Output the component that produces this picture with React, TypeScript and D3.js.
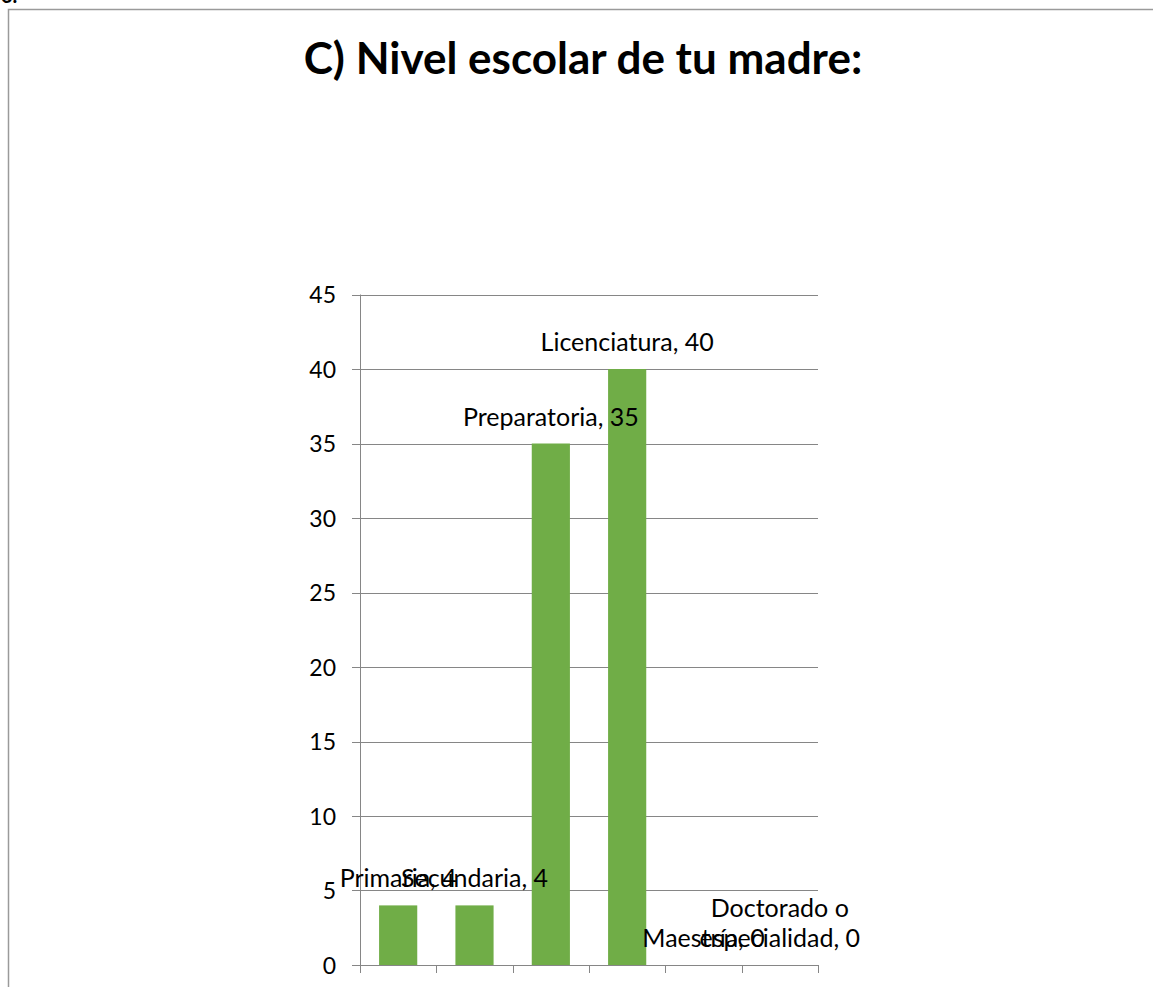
import React from "react";
import * as d3 from "d3";

const categories = ["Primaria", "Secundaria", "Preparatoria", "Licenciatura", "Maestría", "Doctorado o especialidad"];
const values = [4, 4, 35, 40, 0, 0];
const yTicks = [0, 5, 10, 15, 20, 25, 30, 35, 40, 45];
const title = "C) Nivel escolar de tu madre:";

const FONT = "Lato, 'Open Sans', sans-serif";

function wrap(text: string, maxChars: number): string[] {
  const words = text.split(" ");
  const lines: string[] = [];
  let cur = "";
  for (const w of words) {
    const next = cur ? cur + " " + w : w;
    if (next.length > maxChars && cur) {
      lines.push(cur);
      cur = w;
    } else cur = next;
  }
  if (cur) lines.push(cur);
  return lines;
}

export default function App() {
  const W = 1153, H = 987;
  const left = 360, right = 818, top = 294.5, bottom = 965;
  const x = d3.scaleBand<string>().domain(categories).range([left, right]).paddingInner(0.5).paddingOuter(0.25);
  const y = d3.scaleLinear().domain([0, 45]).range([bottom, top]);
  const step = x.step();
  const boundaries = d3.range(categories.length + 1).map((i) => left + i * step);
  const grid = "#868686";

  return (
    <svg width={W} height={H} style={{ position: "absolute", left: 0, top: 0, background: "#fff" }}>
      <rect x={0} y={0} width={W} height={H} fill="#fff" />
      <text x={1} y={3} fontFamily={FONT} fontWeight="bold" fontSize={20} fill="#000">6.</text>
      <path d={`M8.5,${H} V9.5 H${W}`} fill="none" stroke="#9a9a9a" strokeWidth={1.5} />
      <text x={583} y={74} textAnchor="middle" fontFamily={FONT} fontWeight="bold" fontSize={44} fill="#000">{title}</text>
      {yTicks.map((t) => (
        <g key={t}>
          <line x1={left - 8} x2={right} y1={Math.round(y(t)) + 0.5} y2={Math.round(y(t)) + 0.5} stroke={grid} strokeWidth={1} />
          <text x={336} y={y(t) + 8.5} textAnchor="end" fontFamily={FONT} fontSize={23} fill="#000">{t}</text>
        </g>
      ))}
      <line x1={left + 0.5} x2={left + 0.5} y1={top} y2={bottom} stroke={grid} />
      {boundaries.map((b, i) => (
        <line key={i} x1={Math.round(b) + 0.5} x2={Math.round(b) + 0.5} y1={bottom} y2={bottom + 8} stroke={grid} />
      ))}
      {categories.map((c, i) => (
        <rect key={c} x={x(c)} y={y(values[i])} width={x.bandwidth()} height={bottom - y(values[i])} fill="#70AD47" />
      ))}
      {categories.map((c, i) => {
        const lines = wrap(`${c}, ${values[i]}`, 16);
        const cx = (x(c) as number) + x.bandwidth() / 2;
        const base = y(values[i]) - 18;
        return (
          <text key={c} x={cx} textAnchor="middle" fontFamily={FONT} fontSize={25} fill="#000">
            {lines.map((l, j) => (
              <tspan key={j} x={cx} y={base - (lines.length - 1 - j) * 30}>{l}</tspan>
            ))}
          </text>
        );
      })}
    </svg>
  );
}
